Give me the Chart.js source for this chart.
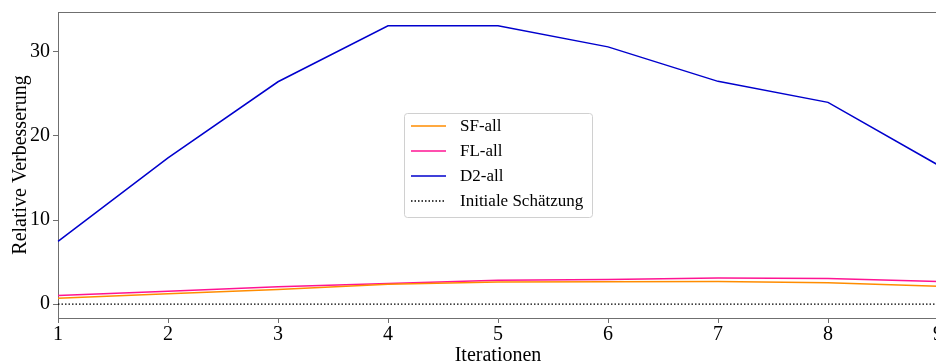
<!DOCTYPE html>
<html>
<head>
<meta charset="utf-8">
<script src="https://cdn.jsdelivr.net/npm/chart.js@4"></script>
<style>
    html, body { margin: 0; padding: 0; background: #fff; overflow: hidden; }
    #wrap { width: 938px; height: 363px; }
</style>
</head>
<body>
<div id="wrap"><canvas id="chart" width="938" height="363"></canvas></div>
<script>
// Werte
const iterations = [1, 2, 3, 4, 5, 6, 7, 8, 9];
const sfAll = [0.68, 1.22, 1.74, 2.37, 2.63, 2.65, 2.68, 2.53, 2.13];
const flAll = [1.03, 1.54, 2.07, 2.45, 2.83, 2.93, 3.10, 3.05, 2.68];
const d2All = [7.47, 17.4, 26.45, 33.1, 33.1, 30.6, 26.5, 24.0, 16.55];
const initialEstimate = [0, 0, 0, 0, 0, 0, 0, 0, 0];
const yTicks = [0, 10, 20, 30];

const FONT = '"Liberation Serif", "Times New Roman", serif';
const SPINE = '#6f6f6f';

const seriesList = [
    { label: 'SF-all', data: sfAll, color: '#ff8c00', dash: [] },
    { label: 'FL-all', data: flAll, color: '#ff1493', dash: [] },
    { label: 'D2-all', data: d2All, color: '#0000cd', dash: [] },
    { label: 'Initiale Schätzung', data: initialEstimate, color: '#000000', dash: [1.5, 2] }
];

// Rahmen oben/rechts + Legende wie bei matplotlib
const framePlugin = {
    id: 'frame',
    afterDraw(chart) {
        const { ctx, chartArea: a } = chart;
        ctx.save();
        ctx.strokeStyle = SPINE;
        ctx.lineWidth = 1;
        ctx.beginPath();
        ctx.moveTo(a.left, a.top + 0.5);
        ctx.lineTo(a.right, a.top + 0.5);
        ctx.lineTo(a.right, a.bottom);
        ctx.stroke();

        // Legende
        const bx = 404, by = 113, bw = 188, bh = 104;
        ctx.fillStyle = 'rgba(255,255,255,0.8)';
        ctx.strokeStyle = '#d0d0d0';
        ctx.beginPath();
        ctx.roundRect(bx + 0.5, by + 0.5, bw, bh, 3);
        ctx.fill();
        ctx.stroke();

        ctx.font = '17px ' + FONT;
        ctx.textBaseline = 'middle';
        seriesList.forEach((s, i) => {
            const y = 126 + i * 25;
            ctx.strokeStyle = s.color;
            ctx.lineWidth = 1.5;
            ctx.setLineDash(s.dash);
            ctx.beginPath();
            ctx.moveTo(411, y);
            ctx.lineTo(446, y);
            ctx.stroke();
            ctx.setLineDash([]);
            ctx.fillStyle = '#000';
            ctx.fillText(s.label, 460, y + 1);
        });
        ctx.restore();
    }
};

new Chart(document.getElementById('chart'), {
    type: 'line',
    data: {
        labels: iterations,
        datasets: seriesList.map(s => ({
            label: s.label,
            data: s.data,
            borderColor: s.color,
            backgroundColor: s.color,
            borderWidth: s.dash.length ? 1.2 : 1.5,
            borderDash: s.dash,
            pointRadius: 0,
            tension: 0,
            fill: false
        }))
    },
    options: {
        responsive: false,
        animation: false,
        layout: { padding: { top: 12, right: 0, left: 0, bottom: 0 } },
        plugins: {
            legend: { display: false },
            tooltip: { enabled: false }
        },
        scales: {
            x: {
                type: 'category',
                offset: false,
                grid: { display: true, drawOnChartArea: false, drawTicks: true, tickLength: 5, color: SPINE },
                border: { display: true, color: SPINE, width: 1 },
                ticks: { color: '#000', font: { family: FONT, size: 20 }, padding: 0, maxRotation: 0 },
                title: { display: true, text: 'Iterationen', color: '#000', font: { family: FONT, size: 20 }, padding: { top: 0, bottom: -5 } },
                afterFit(scale) {
                    scale.height = 45;
                    scale.paddingLeft = 0;
                    scale.paddingRight = 0;
                }
            },
            y: {
                min: -1.655,
                max: 34.75,
                afterBuildTicks(scale) { scale.ticks = yTicks.map(v => ({ value: v })); },
                grid: { display: true, drawOnChartArea: false, drawTicks: true, tickLength: 5, color: SPINE },
                border: { display: true, color: SPINE, width: 1 },
                ticks: { color: '#000', font: { family: FONT, size: 20 }, padding: 3 },
                title: { display: true, text: 'Relative Verbesserung', color: '#000', font: { family: FONT, size: 20 }, padding: { top: 9, bottom: 0 } },
                afterFit(scale) {
                    scale.width = 58;
                    scale.paddingTop = 0;
                    scale.paddingBottom = 0;
                }
            }
        }
    },
    plugins: [framePlugin]
});
</script>
</body>
</html>
